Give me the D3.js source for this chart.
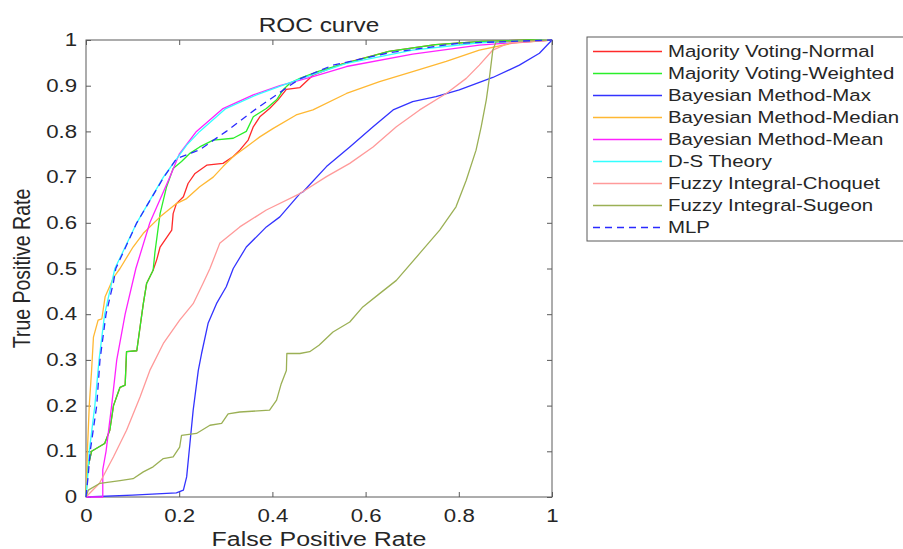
<!DOCTYPE html>
<html>
  <head>
    <meta charset="utf-8">
    <title>ROC curve</title>
    <style>
      body { margin: 0; background: #fff; }
      svg text { font-family: "Liberation Sans", Arial, sans-serif; fill: #262626; }
      .axis path, .axis line { stroke: #5a5a5a; }
      .curve { fill: none; stroke-width: 1.3; stroke-linejoin: round; }
    </style>
  </head>
  <body>
    <div id="chart"></div>
    <script src="https://cdn.jsdelivr.net/npm/d3@7"></script>
    <script>

    // values, one fpr / tpr pair per method
    var names = ['Majority Voting-Normal', 'Majority Voting-Weighted', 'Bayesian Method-Max',
                 'Bayesian Method-Median', 'Bayesian Method-Mean', 'D-S Theory',
                 'Fuzzy Integral-Choquet', 'Fuzzy Integral-Sugeon', 'MLP']
    var colors = ['#ff2a2a', '#2aee2a', '#3333ff', '#ffb833', '#ff22ff', '#33ffff', '#ff9a9a', '#9bb055', '#2a2aff']

    var normalFpr = [0, 0.003, 0.012, 0.04, 0.051, 0.059, 0.073, 0.084, 0.087, 0.109, 0.116, 0.123, 0.13, 0.144, 0.152, 0.159, 0.184, 0.187, 0.194, 0.209, 0.219, 0.234, 0.259, 0.294, 0.316, 0.33, 0.348, 0.359, 0.373, 0.394, 0.412, 0.43, 0.459, 0.487, 0.55, 0.65, 0.75, 0.85, 0.95, 1]
    var normalTpr = [0, 0.06, 0.1, 0.117, 0.146, 0.2, 0.24, 0.245, 0.318, 0.32, 0.372, 0.423, 0.467, 0.496, 0.52, 0.547, 0.584, 0.62, 0.642, 0.657, 0.686, 0.708, 0.726, 0.73, 0.745, 0.759, 0.781, 0.81, 0.832, 0.85, 0.869, 0.892, 0.896, 0.923, 0.948, 0.975, 0.99, 0.997, 1, 1]

    var weightedFpr = [0, 0.003, 0.012, 0.04, 0.051, 0.059, 0.073, 0.084, 0.087, 0.109, 0.116, 0.123, 0.13, 0.144, 0.148, 0.159, 0.173, 0.187, 0.205, 0.223, 0.244, 0.273, 0.316, 0.344, 0.359, 0.387, 0.409, 0.423, 0.437, 0.459, 0.5, 0.56, 0.65, 0.75, 0.85, 0.95, 1]
    var weightedTpr = [0, 0.06, 0.1, 0.117, 0.146, 0.2, 0.24, 0.245, 0.318, 0.32, 0.372, 0.423, 0.467, 0.496, 0.536, 0.62, 0.679, 0.719, 0.734, 0.752, 0.766, 0.781, 0.785, 0.8, 0.832, 0.85, 0.869, 0.891, 0.905, 0.916, 0.932, 0.95, 0.975, 0.99, 0.997, 1, 1]

    var maxFpr = [0, 0.1, 0.194, 0.209, 0.216, 0.223, 0.23, 0.241, 0.248, 0.262, 0.28, 0.301, 0.316, 0.344, 0.387, 0.416, 0.459, 0.466, 0.516, 0.566, 0.616, 0.659, 0.701, 0.751, 0.801, 0.873, 0.93, 0.973, 1]
    var maxTpr = [0, 0.004, 0.009, 0.015, 0.044, 0.117, 0.19, 0.277, 0.314, 0.38, 0.423, 0.46, 0.5, 0.547, 0.591, 0.613, 0.664, 0.668, 0.723, 0.766, 0.81, 0.847, 0.865, 0.876, 0.891, 0.918, 0.945, 0.971, 1]

    var medianFpr = [0, 0.003, 0.007, 0.012, 0.016, 0.026, 0.034, 0.041, 0.059, 0.073, 0.101, 0.123, 0.159, 0.194, 0.216, 0.244, 0.273, 0.294, 0.316, 0.344, 0.373, 0.401, 0.451, 0.487, 0.559, 0.63, 0.701, 0.773, 0.844, 0.916, 1]
    var medianTpr = [0, 0.1, 0.2, 0.277, 0.35, 0.387, 0.39, 0.438, 0.48, 0.5, 0.547, 0.577, 0.613, 0.642, 0.653, 0.679, 0.7, 0.723, 0.745, 0.766, 0.788, 0.806, 0.836, 0.847, 0.883, 0.909, 0.931, 0.953, 0.978, 0.993, 1]

    var meanFpr = [0, 0.036, 0.036, 0.043, 0.055, 0.066, 0.084, 0.107, 0.137, 0.18, 0.2, 0.237, 0.294, 0.359, 0.416, 0.487, 0.559, 0.701, 0.844, 1]
    var meanTpr = [0, 0, 0.06, 0.1, 0.2, 0.3, 0.4, 0.5, 0.6, 0.7, 0.75, 0.8, 0.85, 0.88, 0.9, 0.92, 0.942, 0.969, 0.989, 1]

    var dsFpr = [0, 0.004, 0.007, 0.019, 0.028, 0.04, 0.062, 0.109, 0.166, 0.216, 0.244, 0.3, 0.366, 0.42, 0.46, 0.559, 0.701, 0.844, 1]
    var dsTpr = [0, 0.05, 0.1, 0.2, 0.3, 0.4, 0.5, 0.6, 0.7, 0.77, 0.8, 0.85, 0.88, 0.9, 0.915, 0.949, 0.978, 0.994, 1]

    var choquetFpr = [0, 0.029, 0.059, 0.087, 0.116, 0.137, 0.166, 0.201, 0.23, 0.251, 0.266, 0.287, 0.33, 0.387, 0.459, 0.516, 0.566, 0.616, 0.666, 0.716, 0.773, 0.816, 0.844, 0.873, 0.909, 1]
    var choquetTpr = [0, 0.03, 0.088, 0.146, 0.219, 0.277, 0.336, 0.387, 0.423, 0.467, 0.5, 0.555, 0.591, 0.628, 0.664, 0.701, 0.73, 0.766, 0.81, 0.847, 0.883, 0.916, 0.945, 0.978, 0.994, 1]

    var sugeonFpr = [0, 0.005, 0.03, 0.073, 0.101, 0.123, 0.144, 0.166, 0.187, 0.201, 0.205, 0.237, 0.266, 0.291, 0.305, 0.33, 0.394, 0.409, 0.419, 0.43, 0.431, 0.459, 0.48, 0.5, 0.53, 0.566, 0.594, 0.63, 0.666, 0.716, 0.759, 0.794, 0.816, 0.837, 0.848, 0.859, 0.866, 0.873, 0.88, 1]
    var sugeonTpr = [0, 0.015, 0.03, 0.036, 0.04, 0.055, 0.066, 0.084, 0.088, 0.109, 0.135, 0.139, 0.157, 0.161, 0.182, 0.186, 0.19, 0.212, 0.248, 0.277, 0.314, 0.314, 0.318, 0.332, 0.361, 0.383, 0.416, 0.445, 0.474, 0.533, 0.584, 0.635, 0.693, 0.759, 0.81, 0.869, 0.92, 0.978, 0.996, 1]

    var mlpFpr = [0, 0.005, 0.009, 0.023, 0.03, 0.043, 0.059, 0.064, 0.109, 0.167, 0.194, 0.244, 0.301, 0.366, 0.437, 0.459, 0.53, 0.65, 0.8, 1]
    var mlpTpr = [0, 0.05, 0.1, 0.2, 0.3, 0.4, 0.47, 0.5, 0.6, 0.7, 0.74, 0.76, 0.8, 0.85, 0.9, 0.915, 0.945, 0.972, 0.993, 1]

    var xTicks = [0, 0.2, 0.4, 0.6, 0.8, 1]
    var yTicks = [0, 0.1, 0.2, 0.3, 0.4, 0.5, 0.6, 0.7, 0.8, 0.9, 1]

    var fprs = [normalFpr, weightedFpr, maxFpr, medianFpr, meanFpr, dsFpr, choquetFpr, sugeonFpr, mlpFpr]
    var tprs = [normalTpr, weightedTpr, maxTpr, medianTpr, meanTpr, dsTpr, choquetTpr, sugeonTpr, mlpTpr]

    // note: "top" is taken by window.top, so plot edges get their own names
    var width = 903,
        height = 549,
        stretch = 1.2, // the picture's text is a bit wide
        plotL = 86, plotR = 552, plotT = 40, plotB = 497

    var svg = d3.select('#chart')
          .append('svg')
          .attr('width', width)
          .attr('height', height)

    var x = d3.scaleLinear().domain([0, 1]).range([plotL, plotR])
    var y = d3.scaleLinear().domain([0, 1]).range([plotB, plotT])

    var fmt = function(d) { return d === 0 || d === 1 ? String(d) : d3.format('.1f')(d) }
    var blank = function() { return '' }

    // axes, ticks pointing inwards on all four sides
    svg.append('g').attr('class', 'axis')
        .attr('transform', 'translate(0,' + plotB + ')')
        .call(d3.axisBottom(x).tickValues(xTicks).tickFormat(fmt).tickSizeInner(-5).tickSizeOuter(0).tickPadding(13))
    svg.append('g').attr('class', 'axis')
        .attr('transform', 'translate(' + plotL + ',0)')
        .call(d3.axisLeft(y).tickValues(yTicks).tickFormat(fmt).tickSizeInner(-5).tickSizeOuter(0).tickPadding(7))
    svg.append('g').attr('class', 'axis noText')
        .attr('transform', 'translate(0,' + plotT + ')')
        .call(d3.axisTop(x).tickValues(xTicks).tickFormat(blank).tickSizeInner(-5).tickSizeOuter(0))
    svg.append('g').attr('class', 'axis noText')
        .attr('transform', 'translate(' + plotR + ',0)')
        .call(d3.axisRight(y).tickValues(yTicks).tickFormat(blank).tickSizeInner(-5).tickSizeOuter(0))

    svg.selectAll('.axis .domain').remove()
    svg.selectAll('.noText text').remove()
    svg.append('rect')
        .attr('x', plotL).attr('y', plotT)
        .attr('width', plotR - plotL).attr('height', plotB - plotT)
        .attr('fill', 'none').attr('stroke', '#5a5a5a')

    svg.selectAll('.axis text')
        .attr('font-size', 17.5)
        .attr('fill', '#262626')
        .attr('transform', 'scale(1.27,1)')
    svg.selectAll('.axis').attr('font-family', null).attr('font-size', null)

    // curves
    var line = d3.line()
        .x(function(d) { return x(d[0]) })
        .y(function(d) { return y(d[1]) })

    var plot = svg.append('g')
    names.forEach(function(name, i) {
      var pts = d3.zip(fprs[i], tprs[i])
      plot.append('path')
        .attr('class', 'curve')
        .attr('d', line(pts))
        .attr('stroke', colors[i])
        .attr('stroke-dasharray', name === 'MLP' ? '7,5' : null)
    })

    // title and labels
    svg.append('text')
        .attr('transform', 'translate(' + ((plotL + plotR) / 2) + ',32) scale(1.22,1)')
        .attr('text-anchor', 'middle')
        .attr('font-size', 20)
        .text('ROC curve')

    svg.append('text')
        .attr('transform', 'translate(' + ((plotL + plotR) / 2) + ',546) scale(1.28,1)')
        .attr('text-anchor', 'middle')
        .attr('font-size', 19.5)
        .text('False Positive Rate')

    svg.append('text')
        .attr('transform', 'translate(30,' + ((plotT + plotB) / 2) + ') scale(1.2,1) rotate(-90)')
        .attr('text-anchor', 'middle')
        .attr('font-size', 19.5)
        .text('True Positive Rate')

    // legend
    var legend = svg.append('g')
    legend.append('rect')
        .attr('x', 587).attr('y', 37)
        .attr('width', 330).attr('height', 204)
        .attr('fill', '#fff').attr('stroke', '#5a5a5a')

    var rows = legend.selectAll('g.row').data(names).enter()
      .append('g')
        .attr('class', 'row')
        .attr('transform', function(d, i) { return 'translate(0,' + (51.5 + i * 22) + ')' })

    rows.append('line')
        .attr('x1', 593).attr('x2', 662)
        .attr('stroke', function(d, i) { return colors[i] })
        .attr('stroke-width', 1.3)
        .attr('stroke-dasharray', function(d) { return d === 'MLP' ? '7,5' : null })

    rows.append('text')
        .attr('transform', 'translate(668,0) scale(' + stretch + ',1)')
        .attr('dy', '0.35em')
        .attr('font-size', 17)
        .text(function(d) { return d })

    </script>
  </body>
</html>
